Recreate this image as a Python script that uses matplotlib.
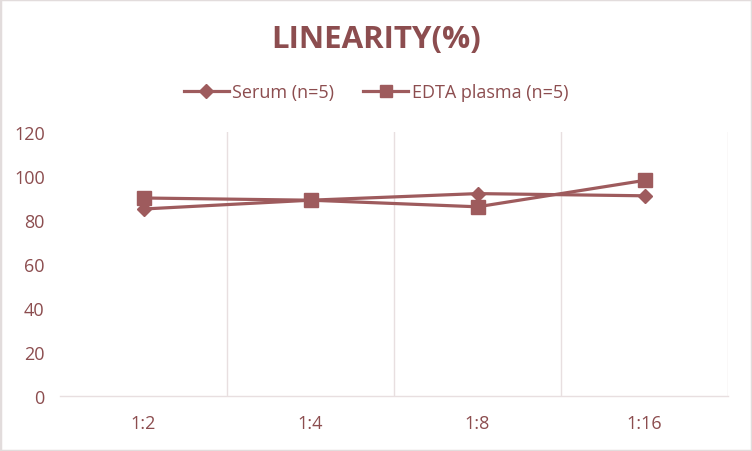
import matplotlib
matplotlib.use("Agg")
import matplotlib.pyplot as plt
from matplotlib.lines import Line2D
from matplotlib.patches import Rectangle

categories = ["1:2", "1:4", "1:8", "1:16"]
serum = [85, 89, 92, 91]
edta = [90, 89, 86, 98]
series_names = ["Serum (n=5)", "EDTA plasma (n=5)"]
yticks = [0, 20, 40, 60, 80, 100, 120]

line_color = "#9e5b5d"
text_color = "#8c4d4f"
grid_color = "#e8dfe0"

plt.rcParams['font.family'] = ['Open Sans', 'DejaVu Sans']

fig = plt.figure(figsize=(7.52, 4.52), dpi=100)
ax = fig.add_axes([60/752, 1 - 397/452, (728-60)/752, (397-133)/452])

x = list(range(len(categories)))
ax.plot(x, serum, color=line_color, lw=2.3, marker='D', markersize=7, label=series_names[0], zorder=3)
ax.plot(x, edta, color=line_color, lw=2.3, marker='s', markersize=10, label=series_names[1], zorder=3)

ax.set_xlim(-0.5, len(categories) - 0.5)
ax.set_ylim(0, 120)
ax.set_yticks(yticks)
ax.set_xticks(x)
ax.set_xticklabels(categories)
for b in [0.5, 1.5, 2.5, 3.5]:
    ax.axvline(b, color=grid_color, lw=1, zorder=1)

for s in ['top', 'left', 'right']:
    ax.spines[s].set_visible(False)
ax.spines['bottom'].set_color(grid_color)
ax.spines['bottom'].set_linewidth(1)
ax.tick_params(axis='both', length=0, labelsize=13, colors=text_color)
ax.tick_params(axis='x', pad=13)
ax.tick_params(axis='y', pad=11)

fig.text(0.5, 1 - 40/452, "LINEARITY(%)", ha='center', va='center', fontsize=22.5,
         fontweight='bold', color=text_color)

handles = [Line2D([0], [0], color=line_color, lw=2.3, marker='D', markersize=7),
           Line2D([0], [0], color=line_color, lw=2.3, marker='s', markersize=9)]
fig.legend(handles, series_names, loc='center', bbox_to_anchor=(0.5, 1 - 93/452),
           ncol=2, frameon=False, fontsize=13, labelcolor=text_color,
           handlelength=2.5, columnspacing=1.6, handletextpad=0.2)

fig.patches.append(Rectangle((0, 0), 1, 1, transform=fig.transFigure, fill=False,
                             edgecolor="#e2dcdc", lw=2.5))

fig.savefig("out.png", dpi=100)
